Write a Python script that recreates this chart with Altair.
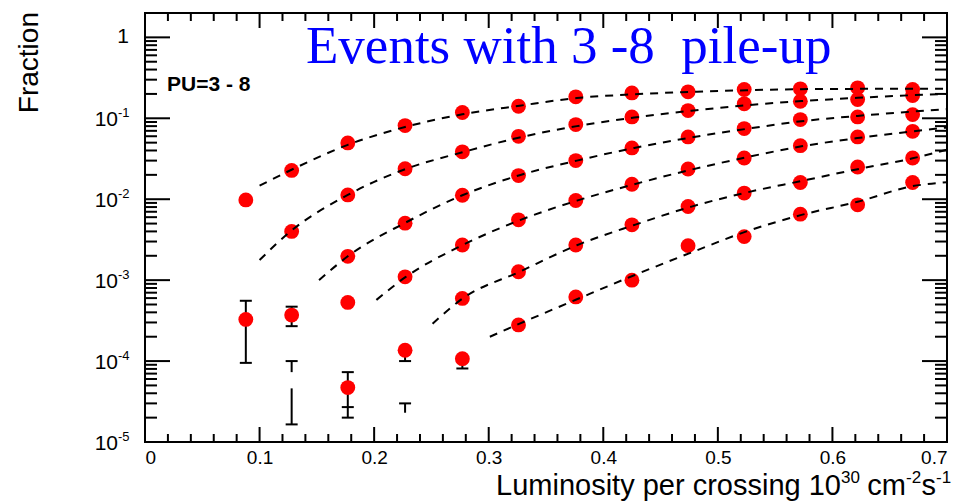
import altair as alt
import pandas as pd

# Luminosity per bunch crossing (10^30 cm^-2 s^-1), bin centres
lumi = [0.088, 0.128, 0.177, 0.227, 0.277, 0.326, 0.376, 0.425, 0.474, 0.523, 0.572, 0.622, 0.670]

# Fraction of events per vertex multiplicity (None = empty bin)
frac_1 = [0.0098, 0.0227, 0.0496, 0.0812, 0.118, 0.141, 0.184, 0.206, 0.2125, 0.227, 0.231, 0.238, 0.227]
frac_2 = [3.27e-4, 0.0040, 0.0113, 0.0238, 0.0385, 0.0598, 0.0836, 0.104, 0.1245, 0.151, 0.1625, 0.1706, 0.191]
frac_3 = [None, 3.7e-4, 0.00197, 0.00506, 0.0112, 0.0196, 0.0300, 0.043, 0.0588, 0.0746, 0.0964, 0.104, 0.111]
frac_4 = [None, None, 5.3e-4, 0.0011, 0.00272, 0.00556, 0.00964, 0.0153, 0.0236, 0.0323, 0.0459, 0.0588, 0.069]
frac_5 = [None, None, 4.7e-5, 1.36e-4, 5.94e-4, 0.00127, 0.00272, 0.00482, 0.00813, 0.0119, 0.0161, 0.025, 0.0323]
frac_6 = [None, None, None, None, 1.07e-4, 2.8e-4, 6.2e-4, 0.0010, 0.00267, 0.00345, 0.00653, 0.00853, 0.0161]

# Fitted curves (dashed), sampled along luminosity
fit_x_1 = [0.100, 0.127, 0.177, 0.227, 0.277, 0.327, 0.377, 0.427, 0.477, 0.525, 0.573, 0.622, 0.670, 0.700]
fit_y_1 = [0.0147, 0.0228, 0.047, 0.078, 0.112, 0.143, 0.178, 0.198, 0.212, 0.222, 0.229, 0.231, 0.232, 0.232]
fit_x_2 = [0.100, 0.127, 0.177, 0.227, 0.277, 0.327, 0.377, 0.427, 0.477, 0.525, 0.573, 0.622, 0.670, 0.700]
fit_y_2 = [0.00177, 0.0040, 0.0113, 0.0235, 0.038, 0.058, 0.080, 0.102, 0.124, 0.145, 0.163, 0.179, 0.193, 0.200]
fit_x_3 = [0.152, 0.177, 0.227, 0.277, 0.327, 0.377, 0.427, 0.477, 0.525, 0.573, 0.622, 0.670, 0.700]
fit_y_3 = [0.0010, 0.00197, 0.0051, 0.0112, 0.0198, 0.030, 0.043, 0.058, 0.074, 0.092, 0.107, 0.121, 0.130]
fit_x_4 = [0.202, 0.227, 0.277, 0.327, 0.377, 0.427, 0.477, 0.525, 0.573, 0.622, 0.670, 0.700]
fit_y_4 = [0.00057, 0.00108, 0.0027, 0.0055, 0.0096, 0.0153, 0.0232, 0.033, 0.045, 0.057, 0.069, 0.077]
fit_x_5 = [0.251, 0.277, 0.327, 0.377, 0.427, 0.477, 0.525, 0.573, 0.622, 0.670, 0.700]
fit_y_5 = [0.00029, 0.00059, 0.00127, 0.0027, 0.0048, 0.0081, 0.0121, 0.0168, 0.0235, 0.032, 0.041]
fit_x_6 = [0.301, 0.327, 0.377, 0.427, 0.477, 0.525, 0.573, 0.622, 0.670, 0.700]
fit_y_6 = [0.00020, 0.00029, 0.00058, 0.00115, 0.0022, 0.0040, 0.0064, 0.0093, 0.0145, 0.0162]

# Visible error-bar segments (low statistics bins) and their end caps
err_x = [0.088, 0.128, 0.128, 0.128, 0.177, 0.227, 0.227, 0.277]
err_lo = [9.5e-5, 2.7e-4, 7.3e-5, 1.65e-5, 2.0e-5, 1.0e-4, 2.3e-5, 8.1e-5]
err_hi = [5.56e-4, 4.7e-4, 1.0e-4, 4.6e-5, 7.3e-5, 1.36e-4, 3.0e-5, 1.07e-4]
cap_x = [0.088, 0.088, 0.128, 0.128, 0.128, 0.128, 0.177, 0.177, 0.177, 0.227, 0.227, 0.277]
cap_y = [9.5e-5, 5.56e-4, 2.7e-4, 4.7e-4, 1.0e-4, 1.65e-5, 7.3e-5, 2.7e-5, 2.0e-5, 1.0e-4, 3.0e-5, 8.1e-5]

# Axis ticks and labels
x_major = [0.0, 0.1, 0.2, 0.3, 0.4, 0.5, 0.6, 0.7]
x_minor = [0.02, 0.04, 0.06, 0.08, 0.12, 0.14, 0.16, 0.18, 0.22, 0.24, 0.26, 0.28,
           0.32, 0.34, 0.36, 0.38, 0.42, 0.44, 0.46, 0.48, 0.52, 0.54, 0.56, 0.58,
           0.62, 0.64, 0.66, 0.68]
y_major = [1.0, 1e-1, 1e-2, 1e-3, 1e-4, 1e-5]
y_exponent = ["", "-1", "-2", "-3", "-4", "-5"]
y_minor = [m * d for d in [1e-5, 1e-4, 1e-3, 1e-2, 1e-1] for m in range(2, 10)] + [2.0]

W, H = 802, 429
FONT = "Liberation Sans"

xs = alt.Scale(domain=[0, 0.7], nice=False, zero=False)
ys = alt.Scale(type="log", domain=[1e-5, 2], nice=False)
x_axis = alt.Axis(values=x_major, labelExpr="datum.value == 0 ? '0' : format(datum.value, '.1f')",
                  ticks=False, domain=False, grid=False, title=None, labelFont=FONT,
                  labelFontSize=19, labelColor="black", labelPadding=6)
X = alt.X("x:Q", scale=xs, axis=x_axis)
Y = alt.Y("y:Q", scale=ys, axis=None)

pts = pd.DataFrame(
    [{"x": x, "y": v, "n": i + 1}
     for i, vals in enumerate([frac_1, frac_2, frac_3, frac_4, frac_5, frac_6])
     for x, v in zip(lumi, vals) if v is not None])
fits = pd.DataFrame(
    [{"x": x, "y": v, "n": i + 1}
     for i, (fx, fy) in enumerate([(fit_x_1, fit_y_1), (fit_x_2, fit_y_2), (fit_x_3, fit_y_3),
                                   (fit_x_4, fit_y_4), (fit_x_5, fit_y_5), (fit_x_6, fit_y_6)])
     for x, v in zip(fx, fy)])
errs = pd.DataFrame({"x": err_x, "y": err_lo, "y2": err_hi})
caps = pd.DataFrame({"x": cap_x, "y": cap_y})
xmaj = pd.DataFrame({"x": x_major})
xmin = pd.DataFrame({"x": x_minor})
ymaj = pd.DataFrame({"y": y_major, "e": y_exponent})
ymin = pd.DataFrame({"y": y_minor})

err_rules = alt.Chart(errs).mark_rule(color="black", strokeWidth=2).encode(
    x=X, y=Y, y2="y2:Q")
err_caps = alt.Chart(caps).mark_tick(color="black", orient="horizontal", size=12,
                                     thickness=2, opacity=1).encode(x=X, y=Y)
points = alt.Chart(pts).mark_point(filled=True, shape="circle", size=220, color="#ff0000",
                                   opacity=1).encode(x=X, y=Y)
curves = alt.Chart(fits).mark_line(color="black", strokeWidth=2, strokeDash=[8, 7],
                                   interpolate="monotone").encode(
    x=X, y=Y, detail="n:N", order="x:Q")


def yticks(df, length):
    left = alt.Chart(df).mark_rule(color="black", strokeWidth=2).encode(
        y=Y, x=alt.value(0), x2=alt.value(length))
    right = alt.Chart(df).mark_rule(color="black", strokeWidth=2).encode(
        y=Y, x=alt.value(W - length), x2=alt.value(W))
    return left + right


def xticks(df, length):
    bottom = alt.Chart(df).mark_rule(color="black", strokeWidth=2).encode(
        x=X, y=alt.value(H - length), y2=alt.value(H))
    top = alt.Chart(df).mark_rule(color="black", strokeWidth=2).encode(
        x=X, y=alt.value(0), y2=alt.value(length))
    return bottom + top


tick_layers = yticks(ymaj, 25) + yticks(ymin, 12) + xticks(xmaj, 15) + xticks(xmin, 8)

# y labels: "1" and 10^n with raised exponent
one_label = alt.Chart(ymaj[ymaj["e"] == ""]).mark_text(
    font=FONT, fontSize=21, align="right", baseline="middle", color="black").encode(
    y=Y, x=alt.value(-16), text=alt.value("1"))
pow_base = alt.Chart(ymaj[ymaj["e"] != ""]).mark_text(
    font=FONT, fontSize=21, align="right", baseline="middle", dy=2, color="black").encode(
    y=Y, x=alt.value(-27), text=alt.value("10"))
pow_exp = alt.Chart(ymaj[ymaj["e"] != ""]).mark_text(
    font=FONT, fontSize=13, align="left", baseline="middle", dy=-5, color="black").encode(
    y=Y, x=alt.value(-27), text="e:N")

# titles and annotations
one = pd.DataFrame({"k": [0]})


def label(txt, x, y, size, **kw):
    return alt.Chart(one).mark_text(fontSize=size, color=kw.pop("color", "black"),
                                    font=kw.pop("font", FONT), **kw).encode(
        x=alt.value(x), y=alt.value(y), text=alt.value(txt))


SX = 29
SUP = 17
base_y = 495 - 13
sup_y = 483 - 13
x_title = (
    label("Luminosity per crossing 10", 841 - 145, base_y, SX, align="right", baseline="alphabetic")
    + label("30", 841 - 145, sup_y, SUP, align="left", baseline="alphabetic")
    + label("cm", 906 - 145, base_y, SX, align="right", baseline="alphabetic")
    + label("-2", 906 - 145, sup_y, SUP, align="left", baseline="alphabetic")
    + label("s", 936 - 145, base_y, SX, align="right", baseline="alphabetic")
    + label("-1", 936 - 145, sup_y, SUP, align="left", baseline="alphabetic")
)
y_title = label("Fraction", 38 - 145, -1, 28, angle=270, align="right", baseline="alphabetic")
pu_text = label("PU=3 - 8", 22, 78, 21, fontWeight="bold", align="left", baseline="alphabetic")
headline = label("Events with 3 -8\u00a0 pile-up", 306 - 145, 50, 53, font="Liberation Serif",
                 color="#0000ff", align="left", baseline="alphabetic")

chart = alt.layer(
    err_rules, err_caps, points, curves, tick_layers,
    one_label, pow_base, pow_exp, x_title, y_title, pu_text, headline,
).properties(
    width=W, height=H,
    autosize=alt.AutoSizeParams(type="none"),
    padding={"left": 145, "top": 13, "right": 964 - 145 - W, "bottom": 502 - 13 - H},
    background="white",
).configure_view(stroke="black", strokeWidth=2)

chart.save("out.html", embed_options={"renderer": "svg", "actions": False})
